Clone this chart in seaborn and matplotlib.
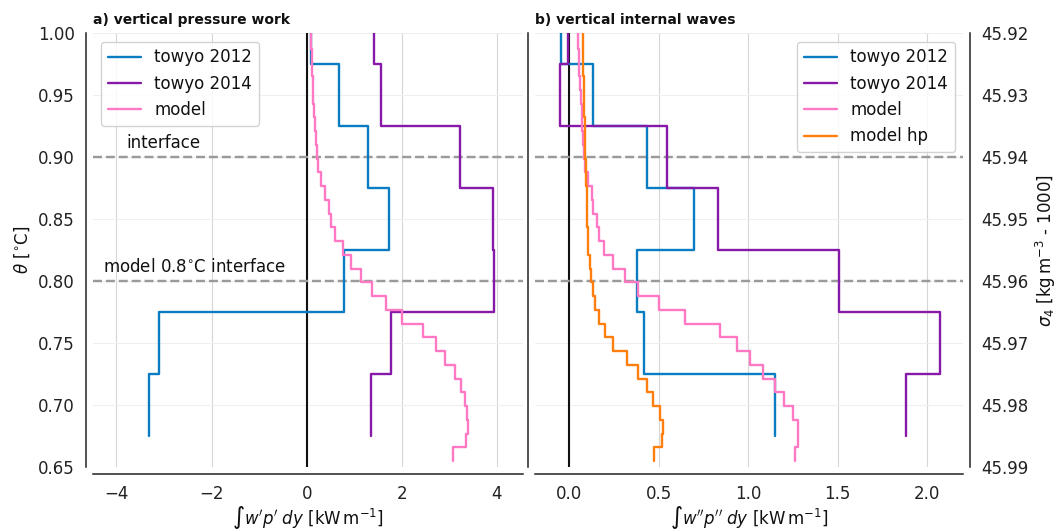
import numpy as np
import pandas as pd
import matplotlib
matplotlib.use("Agg")
import matplotlib.pyplot as plt
from matplotlib.ticker import FormatStrFormatter, MultipleLocator
import seaborn as sns

# ---------------- data ----------------
# towyo bins (theta, degC), bottom -> top
towyo_theta = [0.70, 0.75, 0.80, 0.85, 0.90, 0.95, 1.00]
# a) vertical pressure work [kW m^-1]
pw_towyo2012 = [-3.31, -3.11, 0.78, 1.73, 1.29, 0.68, 0.10]
pw_towyo2014 = [1.36, 1.77, 3.94, 3.91, 3.23, 1.56, 1.42]
# b) vertical internal waves [kW m^-1]
iw_towyo2012 = [1.148, 0.42, 0.381, 0.697, 0.433, 0.135, -0.043]
iw_towyo2014 = [1.882, 2.072, 1.507, 0.832, 0.545, -0.05, -0.004]

# model bins (theta, degC), bottom -> top
model_theta = [0.6601, 0.6712, 0.6823, 0.6934, 0.7045, 0.7156, 0.7267, 0.7378,
               0.7489, 0.7600, 0.7711, 0.7822, 0.7933, 0.8044, 0.8155, 0.8266,
               0.8377, 0.8488, 0.8599, 0.8710, 0.8821, 0.8932, 0.9043, 0.9154,
               0.9265, 0.9376, 0.9487, 0.9598, 0.9709, 0.9820, 0.9931, 1.0042]
pw_model = [3.07, 3.35, 3.40, 3.38, 3.33, 3.25, 3.11, 2.90,
            2.73, 2.45, 2.01, 1.66, 1.38, 1.15, 0.94, 0.76,
            0.59, 0.52, 0.47, 0.38, 0.31, 0.24, 0.21, 0.19,
            0.17, 0.15, 0.14, 0.13, 0.12, 0.11, 0.10, 0.10]
iw_model = [1.26, 1.28, 1.28, 1.25, 1.20, 1.15, 1.08, 1.01,
            0.94, 0.84, 0.65, 0.50, 0.386, 0.31, 0.247, 0.197,
            0.169, 0.154, 0.136, 0.126, 0.108, 0.089, 0.083, 0.078,
            0.074, 0.070, 0.066, 0.062, 0.058, 0.055, 0.052, 0.050]
iw_model_hp = [0.474, 0.517, 0.526, 0.507, 0.47, 0.438, 0.386, 0.321,
               0.247, 0.20, 0.167, 0.145, 0.132, 0.123, 0.117, 0.108,
               0.105, 0.103, 0.101, 0.099, 0.097, 0.094, 0.092, 0.090,
               0.088, 0.086, 0.084, 0.082, 0.080, 0.079, 0.077, 0.076]

interfaces = [0.90, 0.80]
interface_labels = ["interface", "model 0.8$^{\\circ}$C interface"]
theta_ticks = [0.65, 0.70, 0.75, 0.80, 0.85, 0.90, 0.95, 1.00]
sigma_ticks = [45.92, 45.93, 45.94, 45.95, 45.96, 45.97, 45.98, 45.99]

C_BLUE = "#0a7cc2"
C_PURPLE = "#8619a8"
C_PINK = "#ff78c4"
C_ORANGE = "#ff7f0e"


def step_profile(centers, values):
    """Vertical step profile: each value spans its bin in theta."""
    c = np.asarray(centers, float)
    v = np.asarray(values, float)
    mids = (c[1:] + c[:-1]) / 2
    lo = np.concatenate([[c[0] - (c[1] - c[0]) / 2], mids])
    hi = np.concatenate([mids, [c[-1] + (c[-1] - c[-2]) / 2]])
    xs = np.repeat(v, 2)
    ys = np.column_stack([lo, hi]).ravel()
    return pd.DataFrame({"x": xs, "y": ys})


def draw(ax, centers, values, color, label):
    df = step_profile(centers, values)
    sns.lineplot(data=df, x="x", y="y", ax=ax, sort=False, estimator=None,
                 orient="y", color=color, lw=1.7, label=label)


# ---------------- style ----------------
sns.set_theme(style="whitegrid")
plt.rcParams.update({
    "font.family": ["DejaVu Sans"],
    "font.size": 12,
    "axes.edgecolor": "#222222",
    "axes.linewidth": 1.1,
    "grid.color": "#d9d9d9",
    "grid.linewidth": 0.8,
    "xtick.labelsize": 12,
    "ytick.labelsize": 12,
    "axes.labelsize": 12,
    "legend.fontsize": 12,
    "xtick.color": "#222222",
    "ytick.color": "#222222",
    "text.color": "#111111",
    "axes.labelcolor": "#111111",
    "mathtext.fontset": "dejavusans",
})

fig = plt.figure(figsize=(10.57, 5.30), dpi=100)
ax1 = fig.add_axes([0.0877, 0.1194, 0.4071, 0.8177])
ax2 = fig.add_axes([0.5061, 0.1194, 0.4052, 0.8177])

# ---- panel a
draw(ax1, towyo_theta, pw_towyo2012, C_BLUE, "towyo 2012")
draw(ax1, towyo_theta, pw_towyo2014, C_PURPLE, "towyo 2014")
draw(ax1, model_theta, pw_model, C_PINK, "model")

# ---- panel b
draw(ax2, towyo_theta, iw_towyo2012, C_BLUE, "towyo 2012")
draw(ax2, towyo_theta, iw_towyo2014, C_PURPLE, "towyo 2014")
draw(ax2, model_theta, iw_model, C_PINK, "model")
draw(ax2, model_theta, iw_model_hp, C_ORANGE, "model hp")

for ax in (ax1, ax2):
    ax.axvline(0, color="#111111", lw=1.5, zorder=1)
    for yv in interfaces:
        ax.axhline(yv, color="#9a9a9a", lw=1.75, ls="--", zorder=1)
    ax.set_ylim(0.65, 1.00)
    ax.set_yticks(theta_ticks)
    ax.yaxis.set_major_formatter(FormatStrFormatter("%.2f"))
    ax.grid(axis="y", color="#efefef")
    ax.grid(axis="x", color="#d6d6d6")
    ax.tick_params(length=0, pad=8)

ax1.set_xlim(-4.5, 4.55)
ax1.xaxis.set_major_locator(MultipleLocator(2))
ax2.set_xlim(-0.19, 2.2)
ax2.xaxis.set_major_locator(MultipleLocator(0.5))
ax2.xaxis.set_major_formatter(FormatStrFormatter("%.1f"))
ax2.tick_params(axis="y", labelleft=False)

ax1.text(-3.8, interfaces[0] + 0.004, interface_labels[0], fontsize=12, va="bottom")
ax1.text(-4.28, interfaces[1] + 0.004, interface_labels[1], fontsize=12, va="bottom")

ax1.set_ylabel(r"$\theta$ [$^{\circ}$C]")
ax2.set_ylabel("")
ax1.set_xlabel("\u222b" + r"$w'p'\;dy$ [kW$\,$m$^{-1}$]", labelpad=1)
ax2.set_xlabel("\u222b" + r"$w''p''\;dy$ [kW$\,$m$^{-1}$]", labelpad=1)

ax1.set_title("a) vertical pressure work", loc="left", fontsize=10,
              fontweight="bold", pad=7)
ax2.set_title("b) vertical internal waves", loc="left", fontsize=10,
              fontweight="bold", pad=7)

leg1 = ax1.legend(loc="upper left", frameon=True, framealpha=0.85,
                  edgecolor="#cccccc")
leg2 = ax2.legend(loc="upper right", frameon=True, framealpha=0.85,
                  edgecolor="#cccccc")

# twin axis with sigma_4
tw = ax2.twinx()
tw.set_ylim(45.99, 45.92)
tw.set_yticks(sigma_ticks)
tw.yaxis.set_major_formatter(FormatStrFormatter("%.2f"))
tw.grid(False)
tw.tick_params(length=0, pad=8)
tw.set_ylabel(r"$\sigma_4$ [kg$\,$m$^{-3}$ - 1000]")

sns.despine(ax=ax1, offset=5, top=True, right=True)
sns.despine(ax=ax2, offset=5, top=True, right=True)
sns.despine(ax=tw, offset=5, top=True, left=True, bottom=True, right=False)

fig.savefig("out.png", dpi=100)
